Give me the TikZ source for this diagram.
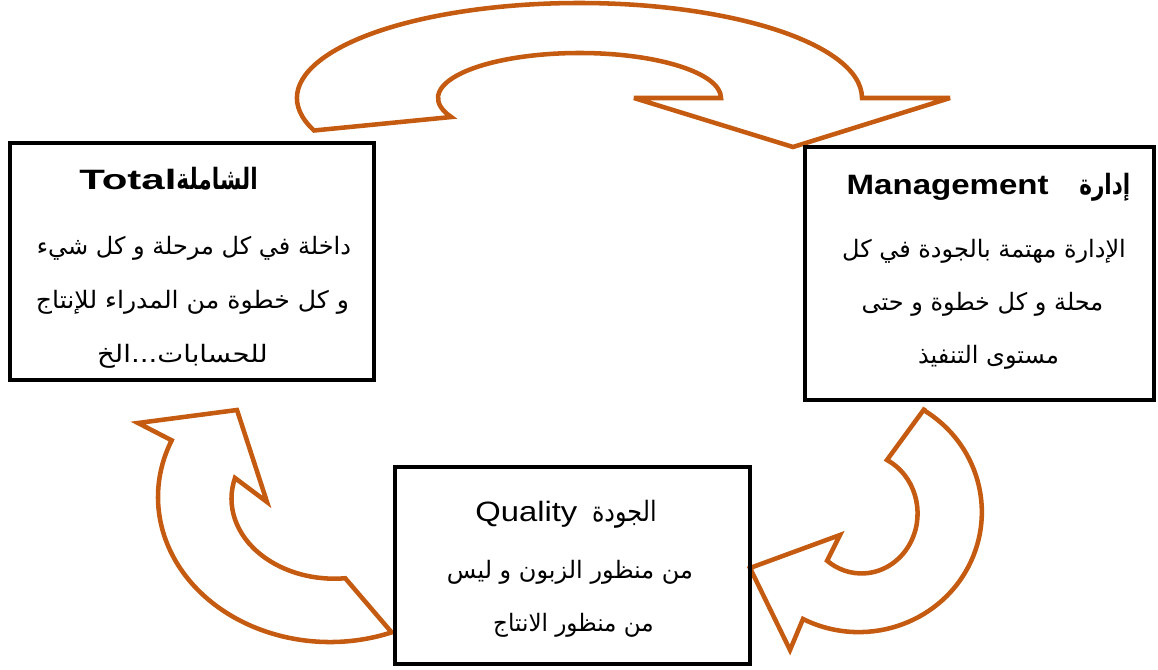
\documentclass[tikz,border=0pt]{standalone}
\usepackage{fontspec}
\setmainfont{Liberation Sans}
\newfontfamily\arabicfont[Script=Arabic]{DejaVu Sans}
\TeXXeTstate=1
\usetikzlibrary{calc}
\definecolor{arrowbrown}{HTML}{C55A11}
\tikzset{
  box/.style={draw=black, line width=3pt, inner sep=0pt},
  curlarrow/.style={draw=arrowbrown, line width=3.4pt, fill=white, line join=miter, miter limit=4},
  titletext/.style={inner sep=0pt, anchor=base, font=\fontsize{21}{24}\selectfont},
  bodytext/.style={inner sep=0pt, anchor=base, font=\arabicfont\fontsize{18}{20}\selectfont},
}
\newcommand{\wide}[2]{\scalebox{#1}[1]{#2}}
\begin{document}
\begin{tikzpicture}[x=0.75pt,y=-0.75pt]
\useasboundingbox (0,0) rectangle (1158,670);

% top curved arrow: from the left box over to the right box
\draw[curlarrow]
  ($(579.5,98)+(160:282.5 and 95)$)
  arc[start angle=160, end angle=360, x radius=282.5, y radius=95]
  -- (950,98) -- (793,147) -- (634,98) -- (721,98)
  arc[start angle=0, end angle=-205, x radius=141.5, y radius=45]
  -- cycle;

% lower right curved arrow: from the right box down to the quality box
\draw[curlarrow]
  (925,408) -- (887,460)
  arc[start angle=-63, end angle=128, x radius=56, y radius=60]
  -- (840,535) -- (750,568) -- (790,650) -- (803,619)
  arc[start angle=117, end angle=-58, x radius=123, y radius=120]
  -- cycle;

% lower left curved arrow: from the quality box up to the left box
\draw[curlarrow]
  ($(330,497)+(69:172 and 145)$)
  arc[start angle=69, end angle=203, x radius=172, y radius=145]
  -- (138,423) -- (237,410) -- (267,502) -- (235,478)
  arc[start angle=195, end angle=84, x radius=103, y radius=80]
  -- cycle;

% the three boxes
\node[box, minimum width=273pt, minimum height=177.75pt] (total) at (192,261.5) {};
\node[box, minimum width=261.75pt, minimum height=189.75pt] (management) at (979.5,273.5) {};
\node[box, minimum width=266.25pt, minimum height=147.75pt] (quality) at (572.5,565.5) {};

% texts of the left box
\node[titletext, font=\fontsize{21}{24}\selectfont\bfseries] (totaltitle) at (168.5,190)
  {\wide{1.5}{Total}\wide{0.74}{\arabicfont\fontsize{22}{24}\selectfont\beginR الشاملة\endR}};
\node[bodytext] (total1) at (194,255) {\beginR داخلة في كل مرحلة و كل شيء\endR};
\node[bodytext] (total2) at (192.5,309) {\wide{1.05}{\beginR و كل خطوة من المدراء للإنتاج\endR}};
\node[bodytext] (total3) at (182.5,363) {\wide{1.15}{\beginR للحسابات...الخ\endR}};

% texts of the right box
\node[titletext, font=\fontsize{21}{24}\selectfont\bfseries] (mgmttitle) at (988.5,195)
  {\wide{1.18}{Management}\hspace{23pt}\wide{0.77}{\arabicfont\beginR إدارة\endR}};
\node[bodytext] (mgmt1) at (984,258) {\beginR الإدارة مهتمة بالجودة في كل\endR};
\node[bodytext] (mgmt2) at (982.5,311) {\beginR محلة و كل خطوة و حتى\endR};
\node[bodytext] (mgmt3) at (988.5,364) {\beginR مستوى التنفيذ\endR};

% texts of the bottom box
\node[titletext] (qualtitle) at (566,522)
  {\wide{1.17}{Quality}\hspace{11pt}\wide{0.85}{\arabicfont\beginR الجودة\endR}};
\node[bodytext] (qual1) at (570,578) {\beginR من منظور الزبون و ليس\endR};
\node[bodytext] (qual2) at (573.5,631) {\wide{0.96}{\beginR من منظور الانتاج\endR}};
\end{tikzpicture}
\end{document}
